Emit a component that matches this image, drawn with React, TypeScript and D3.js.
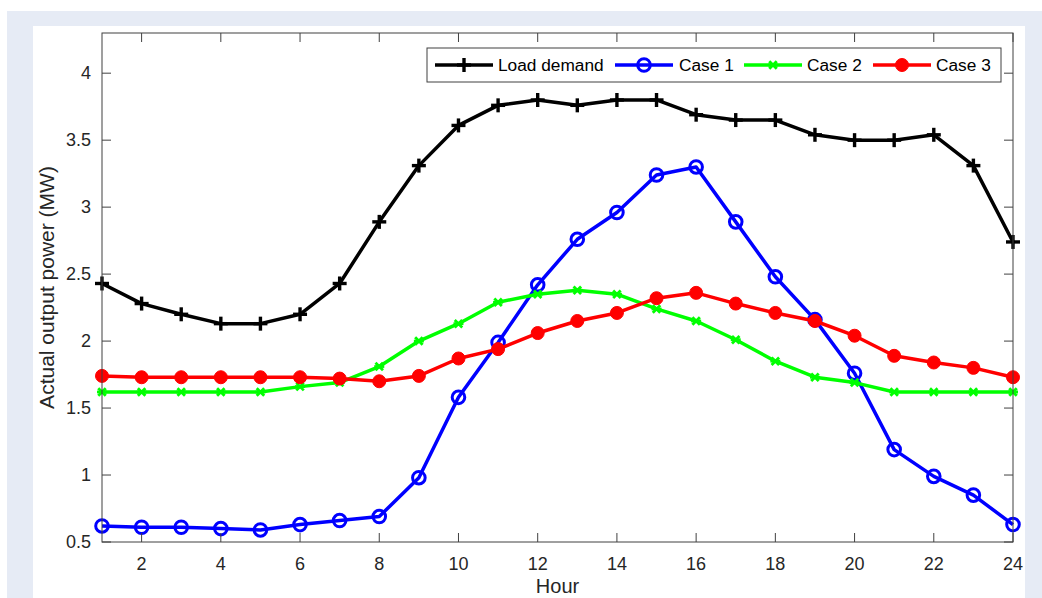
import React from 'react';
import * as d3 from 'd3';

// hourly values (MW)
const hours = d3.range(1, 25);
const loadDemand = [2.43, 2.28, 2.2, 2.13, 2.13, 2.2, 2.43, 2.89, 3.31, 3.61, 3.76, 3.8, 3.76, 3.8, 3.8, 3.69, 3.65, 3.65, 3.54, 3.5, 3.5, 3.54, 3.31, 2.74];
const case1 = [0.62, 0.61, 0.61, 0.6, 0.59, 0.63, 0.66, 0.69, 0.98, 1.58, 1.99, 2.42, 2.76, 2.96, 3.24, 3.3, 2.89, 2.48, 2.16, 1.76, 1.19, 0.99, 0.85, 0.63];
const case2 = [1.62, 1.62, 1.62, 1.62, 1.62, 1.66, 1.69, 1.81, 2.0, 2.13, 2.29, 2.35, 2.38, 2.35, 2.24, 2.15, 2.01, 1.85, 1.73, 1.69, 1.62, 1.62, 1.62, 1.62];
const case3 = [1.74, 1.73, 1.73, 1.73, 1.73, 1.73, 1.72, 1.7, 1.74, 1.87, 1.94, 2.06, 2.15, 2.21, 2.32, 2.36, 2.28, 2.21, 2.15, 2.04, 1.89, 1.84, 1.8, 1.73];

const xTicks = [2, 4, 6, 8, 10, 12, 14, 16, 18, 20, 22, 24];
const yTicks = [0.5, 1, 1.5, 2, 2.5, 3, 3.5, 4];

type Marker = 'plus' | 'circle' | 'star' | 'dot';
const series: { name: string; values: number[]; color: string; marker: Marker }[] = [
  { name: 'Load demand', values: loadDemand, color: '#000000', marker: 'plus' },
  { name: 'Case 1', values: case1, color: '#0000ff', marker: 'circle' },
  { name: 'Case 2', values: case2, color: '#00ff00', marker: 'star' },
  { name: 'Case 3', values: case3, color: '#ff0000', marker: 'dot' },
];

const W = 1042;
const H = 598;
const margin = { left: 102, right: 1013, top: 33, bottom: 542 };
const font = '"Liberation Sans", Arial, Helvetica, sans-serif';
const axisColor = '#404040';

const MarkerShape = ({ type, x, y, color }: { type: Marker; x: number; y: number; color: string }) => {
  if (type === 'plus') {
    const s = 7;
    return (
      <g stroke={color} strokeWidth={3.4}>
        <line x1={x - s} y1={y} x2={x + s} y2={y} />
        <line x1={x} y1={y - s} x2={x} y2={y + s} />
      </g>
    );
  }
  if (type === 'circle') {
    return <circle cx={x} cy={y} r={6.3} fill="none" stroke={color} strokeWidth={3} />;
  }
  if (type === 'star') {
    const s = 5;
    const d = s * 0.75;
    return (
      <g stroke={color} strokeWidth={2.8}>
        <line x1={x - s} y1={y} x2={x + s} y2={y} />
        <line x1={x - d} y1={y - d} x2={x + d} y2={y + d} />
        <line x1={x - d} y1={y + d} x2={x + d} y2={y - d} />
      </g>
    );
  }
  return <circle cx={x} cy={y} r={6.5} fill={color} stroke={color} strokeWidth={1} />;
};

const App = () => {
  const x = d3.scaleLinear().domain([1, 24]).range([margin.left, margin.right]);
  const y = d3.scaleLinear().domain([0.5, 4.3]).range([margin.bottom, margin.top]);

  const line = d3
    .line<number>()
    .x((_, i) => x(hours[i]))
    .y(d => y(d));

  // legend layout
  const legend = { x: 427, y: 48, w: 574, h: 34 };
  const legendItems = [
    { lx: 435, tx: 498 },
    { lx: 615, tx: 679 },
    { lx: 744, tx: 807 },
    { lx: 873, tx: 936 },
  ];
  const legendY = legend.y + legend.h / 2;

  const tickLen = 9;

  return (
    <svg
      width={W}
      height={H}
      style={{ position: 'absolute', left: 0, top: 0, display: 'block' }}
      fontFamily={font}
    >
      <rect x={0} y={0} width={W} height={H} fill="#ffffff" />
      <rect x={7} y={11} width={W - 7} height={H - 11} fill="#e6ebf5" />
      <rect x={33} y={26} width={1025 - 33} height={H - 26} fill="#ffffff" />

      {/* series */}
      {series.map(s => (
        <g key={s.name}>
          <path d={line(s.values) || ''} fill="none" stroke={s.color} strokeWidth={3.5} strokeLinejoin="round" />
          {s.values.map((v, i) => (
            <MarkerShape key={i} type={s.marker} x={x(hours[i])} y={y(v)} color={s.color} />
          ))}
        </g>
      ))}

      {/* axes box */}
      <rect
        x={margin.left}
        y={margin.top}
        width={margin.right - margin.left}
        height={margin.bottom - margin.top}
        fill="none"
        stroke={axisColor}
        strokeWidth={1}
      />
      {xTicks.map(t => (
        <g key={'x' + t}>
          <line x1={x(t)} x2={x(t)} y1={margin.bottom} y2={margin.bottom - tickLen} stroke={axisColor} />
          <line x1={x(t)} x2={x(t)} y1={margin.top} y2={margin.top + tickLen} stroke={axisColor} />
          <text x={x(t)} y={570} textAnchor="middle" fontSize={18} fill="#262626">
            {t}
          </text>
        </g>
      ))}
      {yTicks.map(t => (
        <g key={'y' + t}>
          <line x1={margin.left} x2={margin.left + tickLen} y1={y(t)} y2={y(t)} stroke={axisColor} />
          <line x1={margin.right} x2={margin.right - tickLen} y1={y(t)} y2={y(t)} stroke={axisColor} />
          <text x={91} y={y(t)} dy="0.35em" textAnchor="end" fontSize={18} fill="#262626">
            {t}
          </text>
        </g>
      ))}

      <text x={(margin.left + margin.right) / 2} y={593} textAnchor="middle" fontSize={20} fill="#262626">
        Hour
      </text>
      <text
        transform={`translate(54, ${(margin.top + margin.bottom) / 2}) rotate(-90)`}
        textAnchor="middle"
        fontSize={21}
        fill="#262626"
      >
        Actual output power (MW)
      </text>

      {/* legend */}
      <rect x={legend.x} y={legend.y} width={legend.w} height={legend.h} fill="#ffffff" stroke={axisColor} strokeWidth={1} />
      {series.map((s, i) => {
        const it = legendItems[i];
        return (
          <g key={'lg' + s.name}>
            <line x1={it.lx} x2={it.lx + 58} y1={legendY} y2={legendY} stroke={s.color} strokeWidth={3.5} />
            <MarkerShape type={s.marker} x={it.lx + 29} y={legendY} color={s.color} />
            <text x={it.tx} y={legendY} dy="0.35em" fontSize={17.3} fill="#000000">
              {s.name}
            </text>
          </g>
        );
      })}
    </svg>
  );
};

export default App;
